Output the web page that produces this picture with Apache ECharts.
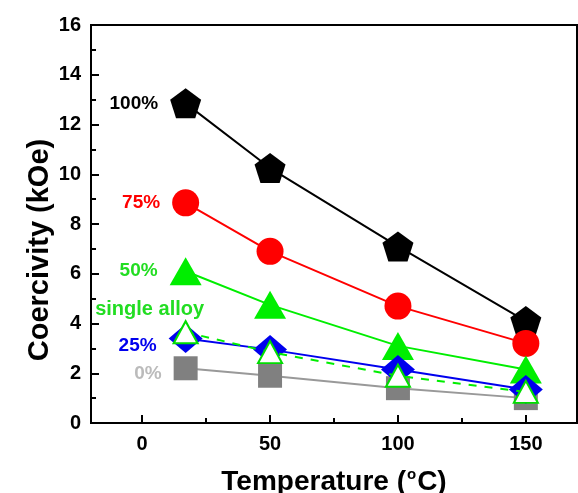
<!DOCTYPE html>
<html><head><meta charset="utf-8">
<script src="https://cdn.jsdelivr.net/npm/echarts@6/dist/echarts.min.js"></script>
<style>html,body{margin:0;padding:0;background:#fff}#c{width:578px;height:493px}</style>
</head><body><div id="c"></div>
<script>
const temps = [17, 50, 100, 150];
const s100 = [12.85, 10.25, 7.1, 4.1];
const s75 = [8.85, 6.9, 4.7, 3.2];
const s50 = [6.1, 4.75, 3.1, 2.15];
const s25 = [3.4, 2.95, 2.15, 1.35];
const sSingle = [3.65, 2.85, 1.9, 1.25];
const s0 = [2.2, 1.9, 1.4, 1.0];
const xTicks = [0, 50, 100, 150];
const xMinor = [25, 75, 125];

const pentagon = 'path://M0,-1 L0.951,-0.309 L0.588,0.809 L-0.588,0.809 L-0.951,-0.309 Z';
const font = 'Liberation Sans, Arial, sans-serif';
function pts(arr){ return temps.map((t,i)=>[t, arr[i]]); }
function mk(name, data, color, symbol, size, labelText, labelColor, labelOffset, extra){
  const d = pts(data);
  d[0] = {value: d[0], label: {show: !!labelText, formatter: labelText, position: 'left', distance: 12,
          offset: labelOffset || [0, 0],
          color: labelColor || color, fontFamily: font, fontWeight: 'bold', fontSize: 19}};
  return Object.assign({
    name, type: 'line', data: d, symbol, symbolSize: size,
    lineStyle: {color, width: 2},
    itemStyle: {color, opacity: 1},
    animation: false
  }, extra || {});
}
const chart = echarts.init(document.getElementById('c'));
chart.setOption({
  animation: false,
  grid: {left: 91, top: 25, right: 1, bottom: 70, containLabel: false, outerBoundsMode: 'none',
         show: true, borderColor: '#000', borderWidth: 2},
  xAxis: [{
    type: 'value', min: -20, max: 170,
    axisLine: {show: true, onZero: false, lineStyle: {color: '#000', width: 2}},
    axisTick: {show: true, inside: true, length: 8, lineStyle: {color: '#000', width: 2}, customValues: xTicks},
    axisLabel: {customValues: xTicks, color: '#000', fontFamily: font, fontWeight: 'bold', fontSize: 20, margin: 11},
    splitLine: {show: false},
    name: '{a|Temperature (}{s|o}{a|C)}', nameLocation: 'middle', nameGap: 44,
    nameTextStyle: {rich: {
      a: {fontFamily: font, fontWeight: 'bold', fontSize: 28, color: '#000'},
      s: {fontFamily: font, fontWeight: 'bold', fontSize: 15, color: '#000', verticalAlign: 'top', padding: [0,1,16,1]}
    }}
  }, {
    type: 'value', min: -20, max: 170, position: 'bottom',
    axisLine: {show: false, onZero: false},
    axisTick: {show: true, inside: true, length: 5, lineStyle: {color: '#000', width: 2}, customValues: xMinor},
    axisLabel: {show: false}, splitLine: {show: false}
  }],
  yAxis: {
    type: 'value', min: 0, max: 16, interval: 2,
    axisLine: {show: true, onZero: false, lineStyle: {color: '#000', width: 2}},
    axisTick: {show: true, inside: true, length: 8, lineStyle: {color: '#000', width: 2}},
    minorTick: {show: true, splitNumber: 2, length: 5, lineStyle: {color: '#000', width: 2}},
    axisLabel: {color: '#000', fontFamily: font, fontWeight: 'bold', fontSize: 20, margin: 10},
    splitLine: {show: false},
    name: 'Coercivity (kOe)', nameLocation: 'middle', nameGap: 37, nameMoveOverlap: false,
    nameTextStyle: {fontFamily: font, fontWeight: 'bold', fontSize: 29, color: '#000', padding: [0,0,0,-52]}
  },
  series: [
    mk('0%', s0, '#808080', 'rect', 24, '0%', '#bbbbbb', [0, 5], {lineStyle:{color:'#999', width:2}, z: 2}),
    mk('100%', s100, '#000000', pentagon, [31,30], '100%', null, null, {z: 3}),
    mk('75%', s75, '#ff0000', 'circle', 27, '75%', null, null, {z: 4}),
    mk('50%', s50, '#00ee00', 'triangle', [32,28], '50%', '#22dd22', null, {z: 5}),
    mk('25%', s25, '#0000ee', 'diamond', [34,29], '25%', null, [0, 7], {z: 6}),
    (function(){
      const s = mk('single alloy', sSingle, '#00ee00', 'triangle', [24,22], null, null, null, {z: 7});
      s.itemStyle = {color: '#fff', borderColor: '#00dd00', borderWidth: 2};
      s.lineStyle = {color: '#00ee00', width: 2, type: [8, 8]};
      s.data[0].label = {show: true, formatter: 'single alloy', position: 'top', distance: 1, offset: [-36, 0],
        color: '#22dd22', fontFamily: font, fontWeight: 'bold', fontSize: 20};
      return s;
    })()
  ]
});
</script></body></html>
